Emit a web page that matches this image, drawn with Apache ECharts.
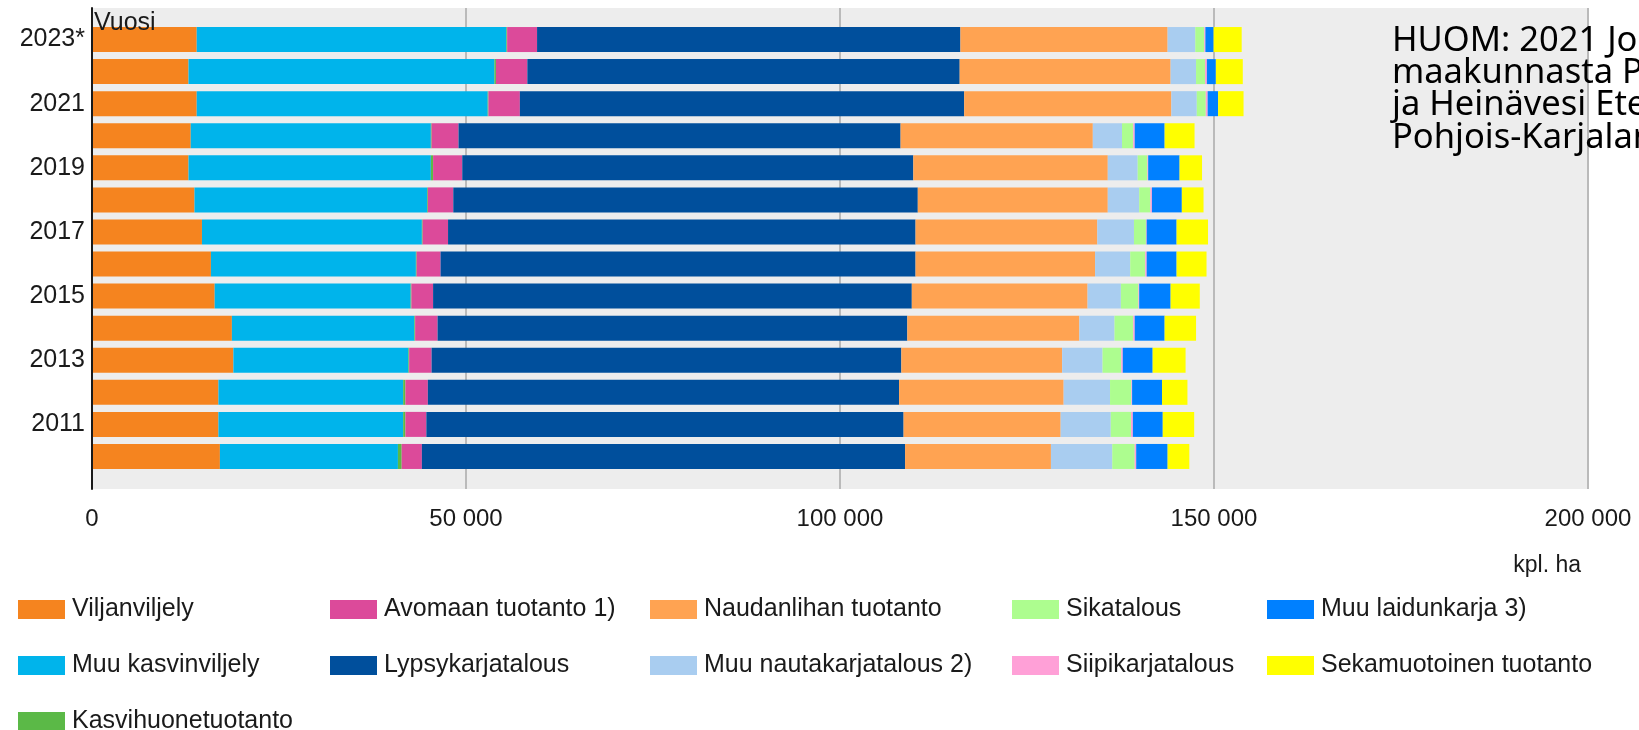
<!DOCTYPE html>
<html>
<head>
<meta charset="utf-8">
<script src="https://cdn.jsdelivr.net/npm/echarts@6/dist/echarts.min.js"></script>
<style>
html,body{margin:0;padding:0;background:#fff;}
#chart{width:1639px;height:730px;}
</style>
</head>
<body>
<div id="chart"></div>
<script>
// Categories (top to bottom)
const years = ['2023*','2022','2021','2020','2019','2018','2017','2016','2015','2014','2013','2012','2011','2010'];

// Series values (ha), same order as years
const viljanviljely    = [14000,12900,14000,13200,12900,13700,14700,15900,16400,18700,18900,16900,16900,17100];
const muuKasvinviljely = [41400,40900,38900,32100,32400,31100,29400,27400,26200,24400,23400,24700,24700,23800];
const kasvihuone       = [100,200,100,100,300,100,100,100,100,100,100,300,300,500];
const avomaan          = [4000,4200,4200,3600,3900,3400,3400,3200,2900,3000,3000,3000,2800,2700];
const lypsykarja       = [56600,57800,59400,59100,60300,62100,62500,63500,64000,62800,62800,63000,63800,64600];
const naudanliha       = [27700,28200,27700,25700,26000,25400,24300,24000,23500,23000,21500,22000,21000,19500];
const muuNautakarja    = [3700,3400,3400,3900,4000,4200,4900,4700,4450,4700,5400,6200,6700,8200];
const sikatalous       = [1200,1200,1200,1500,1300,1500,1600,2000,2350,2500,2500,2850,2700,3000];
const siipikarja       = [150,250,250,200,100,200,100,200,100,200,200,100,250,200];
const muuLaidunkarja   = [1100,1200,1400,4000,4200,4000,4000,4000,4200,4000,4000,4000,4000,4200];
const sekamuotoinen    = [3750,3600,3400,4000,3000,2900,4200,4000,3900,4200,4400,3400,4200,2900];

// Series names
const names = ['Viljanviljely','Muu kasvinviljely','Kasvihuonetuotanto','Avomaan tuotanto 1)','Lypsykarjatalous',
  'Naudanlihan tuotanto','Muu nautakarjatalous 2)','Sikatalous','Siipikarjatalous','Muu laidunkarja 3)','Sekamuotoinen tuotanto'];
const values = [viljanviljely,muuKasvinviljely,kasvihuone,avomaan,lypsykarja,naudanliha,muuNautakarja,sikatalous,siipikarja,muuLaidunkarja,sekamuotoinen];
const colors = ['#f5841f','#00b4eb','#5bb947','#dc4a9a','#004f9c','#ffa352','#a9cdf0','#adfd8f','#ffa0d7','#0080ff','#ffff00'];

// x-axis ticks
const xTicks = [0,50000,100000,150000,200000];

const note = 'HUOM: 2021 Joroinen siirtyi\nmaakunnasta Pohjois-Savoon\nja Heinävesi Etelä-Savosta\nPohjois-Karjalan maakuntaan.';

const FONT = 'Liberation Sans, Arial, sans-serif';
const TXT = '#1a1a1a';

const chart = echarts.init(document.getElementById('chart'), null, {renderer:'canvas'});

const legendCols = [
  {left:18, items:[0,1,2]},
  {left:330, items:[3,4]},
  {left:650, items:[5,6]},
  {left:1012, items:[7,8]},
  {left:1267, items:[9,10]}
];

const option = {
  animation:false,
  grid:[
    {left:92, right:51, top:8, bottom:241, show:true, backgroundColor:'#ededed', borderWidth:0},
    {left:92, right:51, top:23.5, height:449, show:false}
  ],
  xAxis:[
    {gridIndex:0, type:'value', min:xTicks[0], max:xTicks[xTicks.length-1], interval:50000,
     axisLine:{show:false}, axisTick:{show:false},
     splitLine:{show:true, lineStyle:{color:'#bababa', width:2}},
     axisLabel:{fontFamily:FONT, fontSize:24, color:TXT, margin:18, lineHeight:24,
       formatter:v => v === 0 ? '0' : String(v).replace(/\B(?=(\d{3})+(?!\d))/g,' ')}},
    {gridIndex:1, type:'value', min:0, max:200000, show:false}
  ],
  yAxis:[
    {gridIndex:0, type:'value', min:0, max:1, z:5,
     axisLine:{show:true, lineStyle:{color:'#1a1a1a', width:2}},
     axisTick:{show:false}, axisLabel:{show:false}, splitLine:{show:false}},
    {gridIndex:1, type:'category', inverse:true, data:years,
     axisLine:{show:false}, axisTick:{show:false}, splitLine:{show:false},
     axisLabel:{interval:1, fontFamily:FONT, fontSize:25, color:TXT, margin:7}}
  ],
  legend: legendCols.map(c => ({
    orient:'vertical', left:c.left, top:597, height:200, padding:0,
    itemWidth:47, itemHeight:19, itemGap:31,
    icon:'rect', selectedMode:false,
    textStyle:{fontFamily:FONT, fontSize:25, color:TXT, padding:[0,0,0,2]},
    data:c.items.map(i => names[i])
  })),
  series: names.map((n,i) => ({
    name:n, type:'bar', stack:'total', xAxisIndex:1, yAxisIndex:1,
    barCategoryGap:'22%', data:values[i], itemStyle:{color:colors[i]}
  })),
  graphic:[
    {type:'text', left:94, top:11, z:100, style:{text:'Vuosi', font:'25px ' + FONT, fill:TXT}},
    {type:'text', x:1581, y:566, z:100, style:{text:'kpl. ha', font:'23px ' + FONT, fill:TXT, align:'right', verticalAlign:'middle'}},
    {type:'text', x:1392, y:25, z:100, style:{text:note, font:'34.5px "Noto Sans", sans-serif', fill:'#000', lineHeight:32.2}}
  ]
};
chart.setOption(option);
</script>
</body>
</html>
